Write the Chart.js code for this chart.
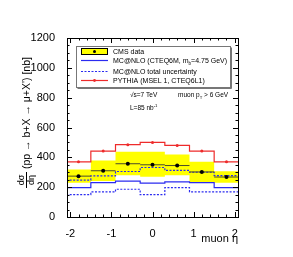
<!DOCTYPE html>
<html>
<head>
<meta charset="utf-8">
<script src="https://cdn.jsdelivr.net/npm/chart.js@4.4.1/dist/chart.umd.min.js"></script>
<style>
  html, body { margin: 0; padding: 0; background: #fff; }
  #wrap { width: 293px; height: 257px; }
</style>
</head>
<body>
<div id="wrap"><canvas id="c" width="293" height="257"></canvas></div>
<script>
// binning in muon eta
const binEdges = [-2.1, -1.5, -0.9, -0.3, 0.3, 0.9, 1.5, 2.1];
const binCenters = [-1.8, -1.2, -0.6, 0, 0.6, 1.2, 1.8];

// values in nb
const cmsData = [274, 310, 357, 350, 345, 302, 268];
const cmsBandHigh = [318, 378, 437, 437, 419, 370, 307];
const cmsBandLow = [229, 242, 280, 269, 280, 235, 229];
const mcnlo = [197, 231, 240, 227, 235, 231, 197];
const mcnloUp = [247, 276, 305, 332, 312, 300, 278];
const mcnloLow = [150, 168, 186, 150, 197, 168, 168];
const pythia = [370, 442, 485, 500, 480, 442, 370];

const xTicks = [-2, -1, 0, 1, 2];
const yTicks = [0, 200, 400, 600, 800, 1000, 1200];

const FONT = '"Liberation Sans", Arial, Helvetica, sans-serif';
const RED = '#ee2b2b';
const BLUE = '#2b2bf0';

// histogram as stepped line: one point per left edge + closing point
const steps = vals => vals.map((v, i) => ({ x: binEdges[i], y: v }))
  .concat([{ x: binEdges[binEdges.length - 1], y: vals[vals.length - 1] }]);

// separate horizontal segments per bin (x error bars of the data)
const xBars = vals => {
  let out = [];
  vals.forEach((v, i) => {
    out.push({ x: binEdges[i], y: v }, { x: binEdges[i + 1], y: v }, { x: binEdges[i + 1], y: null });
  });
  return out;
};

const centers = vals => vals.map((v, i) => ({ x: binCenters[i], y: v }));

// draw a run of text pieces, with sub/superscripts
function drawRich(ctx, x, y, parts, size) {
  parts.forEach(p => {
    let s = p.sub || p.sup ? size * 0.65 : size;
    ctx.font = s + 'px ' + FONT;
    let dy = p.sub ? size * 0.3 : (p.sup ? -size * 0.4 : 0);
    ctx.fillText(p.t, x, y + dy);
    x += ctx.measureText(p.t).width;
  });
}

const decorations = {
  id: 'decorations',
  afterDraw(chart) {
    const ctx = chart.ctx;
    const xs = chart.scales.x, ys = chart.scales.y;
    const L = chart.chartArea.left, R = chart.chartArea.right;
    const T = chart.chartArea.top, B = chart.chartArea.bottom;
    ctx.save();

    // frame
    ctx.strokeStyle = '#000';
    ctx.lineWidth = 1;
    ctx.strokeRect(Math.round(L) + 0.5, Math.round(T) + 0.5, Math.round(R - L), Math.round(B - T));

    // ticks inside, mirrored on top and right
    ctx.beginPath();
    for (let v = 0; v <= 1200; v += 50) {
      let y = Math.round(ys.getPixelForValue(v)) + 0.5;
      let len = v % 200 === 0 ? 5 : 2.5;
      ctx.moveTo(L, y); ctx.lineTo(L + len, y);
      ctx.moveTo(R, y); ctx.lineTo(R - len, y);
    }
    for (let k = -10; k <= 10; k++) {
      let v = k * 0.2;
      let x = Math.round(xs.getPixelForValue(v)) + 0.5;
      let len = k % 5 === 0 ? 5 : 2.5;
      ctx.moveTo(x, B); ctx.lineTo(x, B - len);
      ctx.moveTo(x, T); ctx.lineTo(x, T + len);
    }
    ctx.stroke();

    // x title
    ctx.fillStyle = '#000';
    ctx.font = '11px ' + FONT;
    ctx.textAlign = 'right';
    ctx.textBaseline = 'alphabetic';
    ctx.fillText('muon η', R, 242);

    // y title, rotated
    ctx.save();
    ctx.translate(26, 190);
    ctx.rotate(-Math.PI / 2);
    ctx.textAlign = 'center';
    ctx.font = '9px ' + FONT;
    ctx.fillText('dσ', 10, -2);
    ctx.fillText('dη', 10, 8);
    ctx.beginPath();
    ctx.moveTo(2, 0.5); ctx.lineTo(18, 0.5);
    ctx.stroke();
    ctx.textAlign = 'left';
    ctx.font = '10.5px ' + FONT;
    ctx.fillText("(pp → b+X → μ+X') [nb]", 21, 4);
    ctx.restore();

    // legend box
    const lx = 76, ly = 46, lw = 154, lh = 41;
    ctx.fillStyle = '#fff';
    ctx.fillRect(lx, ly, lw, lh);
    ctx.strokeStyle = '#777';
    ctx.strokeRect(lx + 0.5, ly + 0.5, lw, lh);
    ctx.beginPath();
    ctx.moveTo(lx + 1.5, ly + lh + 1.5); ctx.lineTo(lx + lw + 1.5, ly + lh + 1.5); ctx.lineTo(lx + lw + 1.5, ly + 1.5);
    ctx.stroke();

    // entry 1: CMS data
    ctx.fillStyle = '#ffff00';
    ctx.fillRect(81, 48.5, 27, 6);
    ctx.strokeStyle = '#000';
    ctx.strokeRect(81.5, 48.5, 26, 6);
    ctx.fillStyle = '#000';
    ctx.beginPath(); ctx.arc(94.5, 51.5, 1.5, 0, Math.PI * 2); ctx.fill();
    // entry 2: MC@NLO line
    ctx.strokeStyle = BLUE; ctx.lineWidth = 1.2;
    ctx.beginPath(); ctx.moveTo(81, 60.5); ctx.lineTo(108, 60.5); ctx.stroke();
    // entry 3: dotted
    ctx.setLineDash([2, 1.5]);
    ctx.beginPath(); ctx.moveTo(81, 71.5); ctx.lineTo(108, 71.5); ctx.stroke();
    ctx.setLineDash([]);
    // entry 4: PYTHIA
    ctx.strokeStyle = RED;
    ctx.beginPath(); ctx.moveTo(81, 80.5); ctx.lineTo(108, 80.5); ctx.stroke();
    ctx.fillStyle = RED;
    ctx.beginPath(); ctx.arc(94.5, 80.5, 1.4, 0, Math.PI * 2); ctx.fill();

    ctx.fillStyle = '#000';
    ctx.textAlign = 'left';
    drawRich(ctx, 113, 54, [{ t: 'CMS data' }], 7);
    drawRich(ctx, 113, 63, [{ t: 'MC@NLO (CTEQ6M, m' }, { t: 'b', sub: 1 }, { t: '=4.75 GeV)' }], 7);
    drawRich(ctx, 113, 74, [{ t: 'MC@NLO total uncertainty' }], 7);
    drawRich(ctx, 113, 83, [{ t: 'PYTHIA (MSEL 1, CTEQ6L1)' }], 7);

    // annotations
    drawRich(ctx, 130, 97, [{ t: '√s=7 TeV' }], 6.5);
    drawRich(ctx, 178, 97, [{ t: 'muon p' }, { t: 'T', sub: 1 }, { t: ' > 6 GeV' }], 6.5);
    drawRich(ctx, 130, 110, [{ t: 'L=85 nb' }, { t: '-1', sup: 1 }], 6.5);

    ctx.restore();
  }
};

const line = (data, color, extra) => Object.assign({
  type: 'line', data: data, borderColor: color, borderWidth: 1.2,
  pointRadius: 0, stepped: 'before', fill: false, tension: 0
}, extra || {});

new Chart(document.getElementById('c'), {
  data: {
    datasets: [
      line(centers(cmsData), '#000', { type: 'scatter', pointRadius: 2, pointBackgroundColor: '#000', pointBorderWidth: 0, showLine: false, order: 0 }),
      line(centers(pythia), RED, { type: 'scatter', pointRadius: 1.5, pointBackgroundColor: RED, pointBorderWidth: 0, showLine: false, order: 1 }),
      line(xBars(cmsData), '#4a4a2a', { stepped: false, spanGaps: false, borderWidth: 1, order: 2 }),
      line(steps(pythia), RED, { order: 3 }),
      line(steps(mcnlo), BLUE, { order: 4 }),
      line(steps(mcnloUp), BLUE, { borderDash: [2, 1.5], order: 5 }),
      line(steps(mcnloLow), BLUE, { borderDash: [2, 1.5], order: 6 }),
      line(steps(cmsBandHigh), 'rgba(0,0,0,0)', { borderWidth: 0, fill: '+1', backgroundColor: '#ffff00', order: 20 }),
      line(steps(cmsBandLow), 'rgba(0,0,0,0)', { borderWidth: 0, order: 21 })
    ]
  },
  options: {
    responsive: false,
    animation: false,
    layout: { padding: { top: 38, right: 55, left: 0, bottom: 0 } },
    plugins: { legend: { display: false }, tooltip: { enabled: false } },
    scales: {
      x: {
        type: 'linear', min: -2.08, max: 2.08,
        grid: { display: false }, border: { display: false },
        afterFit: s => { s.height = 40; },
        afterBuildTicks: s => { s.ticks = xTicks.map(v => ({ value: v })); },
        ticks: { color: '#000', padding: 2, maxRotation: 0, font: { family: FONT, size: 11 }, callback: v => String(v) }
      },
      y: {
        type: 'linear', min: 0, max: 1200,
        grid: { display: false }, border: { display: false },
        afterFit: s => { s.width = 67; },
        afterBuildTicks: s => { s.ticks = yTicks.map(v => ({ value: v })); },
        ticks: { color: '#000', padding: 4, font: { family: FONT, size: 11 }, callback: v => String(v) }
      }
    }
  },
  plugins: [decorations]
});
</script>
</body>
</html>
